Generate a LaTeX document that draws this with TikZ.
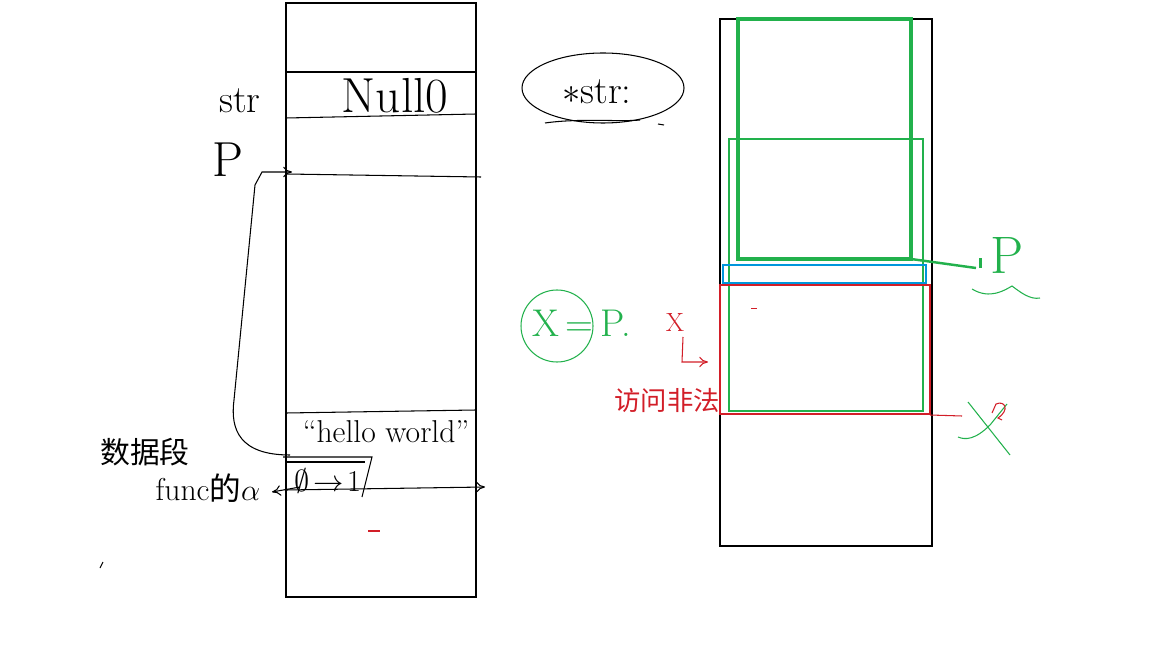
\documentclass[tikz,border=0pt]{standalone}
\usepackage{fontspec}
\usepackage{tikz}
\usetikzlibrary{arrows.meta,shapes.geometric}
\newfontfamily\cjk{Noto Sans CJK SC}
\definecolor{pgreen}{RGB}{34,177,76}
\definecolor{pred}{RGB}{210,30,40}
\definecolor{pblue}{RGB}{0,150,220}

\begin{document}
\begin{tikzpicture}[x=0.02cm, y=-0.02cm, line width=0.6pt,
    txt/.style={inner sep=0pt, anchor=center},
    sz/.style={font=\fontsize{#1}{#1}\selectfont},
    tip/.style={-{To[length=5pt,width=6pt]}}]
            \useasboundingbox (0, 0) rectangle (1152, 648);
            % left memory column
            \draw (286, 3) rectangle (476, 597);
            \draw (286, 72) -- (476, 72);
            \draw (286, 118) -- (476, 114);
            \draw (286, 174) -- (481, 177);
            \draw (286, 413) -- (476, 410);
            \draw[tip] (286, 490) -- (485, 487);
            \node[txt, sz=28pt] (null) at (395, 96) {Null0};
            \node[txt, sz=22pt] (str) at (240, 101) {str};
            \node[txt, sz=28pt] (p) at (228, 160) {P};
            \coordinate (prow) at (292, 172);
            \node[txt, sz=18pt] (hello) at (386, 432) {“hello world”};
            % the small box under hello world
            \draw (283, 457) -- (372, 457) -- (362, 497);
            \draw (286, 462) -- (365, 462);
            \node[txt, sz=16pt] (flip) at (328, 481) {$\emptyset\!\to\!1$};
            \coordinate (qtop) at (290, 455);
            \draw[tip] (qtop) .. controls (240, 455) and (230, 430) .. (234, 400)
                -- (255, 185) -- (262, 172) -- (prow);
            \node[txt, sz=17pt] (seg) at (145, 452) {\cjk 数据段};
            \node[txt, sz=18pt] (func) at (208, 488) {func{\cjk 的}$\alpha$};
            \draw[tip] (300, 487) -- (272, 492);
            \fill[pred] (368, 530) rectangle (380, 532);
            \draw (100, 568) -- (103, 562);
            % *str in the ellipse
            \node[draw, ellipse, minimum width=162*0.02cm, minimum height=70*0.02cm] (ell) at (603, 88) {};
            \node[txt, sz=22pt] (pstr) at (597, 92) {$*$str:};
            \draw (545, 123) .. controls (580, 118) and (620, 122) .. (640, 120);
            \draw (658, 124) -- (664, 125);
            % right memory column
            \draw (720, 19) rectangle (932, 546);
            \draw[pgreen, line width=1.8pt] (738, 19) rectangle (911, 259);
            \draw[pgreen] (729, 139) rectangle (923, 411);
            \draw[pblue] (723, 265) rectangle (926, 283);
            \draw[pred] (720, 285) rectangle (930, 414);
            \fill[pred] (751, 308) rectangle (757, 309);
            \node[txt, sz=30pt, text=pgreen] (pnew) at (1007, 256) {P};
            \fill[pgreen] (979, 258) rectangle (982, 268);
            \draw[pgreen, line width=1.4pt] (911, 259) -- (976, 268);
            \draw[pgreen] (972, 289) .. controls (990, 300) and (1005, 290) .. (1012, 286)
                .. controls (1020, 292) and (1030, 300) .. (1040, 298);
            \coordinate (xend) at (962, 416);
            \draw[pred] (930, 415) -- (xend);
            \draw[pgreen] (968, 402) -- (1010, 455);
            \draw[pgreen] (1007, 404) -- (990, 425) .. controls (975, 440) and (965, 440) .. (958, 437);
            \draw[pred] (992, 413) -- (996, 404) .. controls (1005, 400) and (1010, 410) .. (998, 418) -- (1002, 420);
            % x = p and the red notes
            \node[draw=pgreen, circle, minimum size=72*0.02cm] (circ) at (557, 326) {};
            \node[txt, sz=22pt, text=pgreen] (xp) at (582, 323) {X\,=\,P.};
            \node[txt, sz=15pt, text=pred] (xr) at (675, 323) {X};
            \draw[pred, tip] (683, 337) -- (682, 362) -- (708, 362);
            \node[txt, sz=15pt, text=pred] (bad) at (667, 401) {\cjk 访问非法};
    \end{tikzpicture}
\end{document}
